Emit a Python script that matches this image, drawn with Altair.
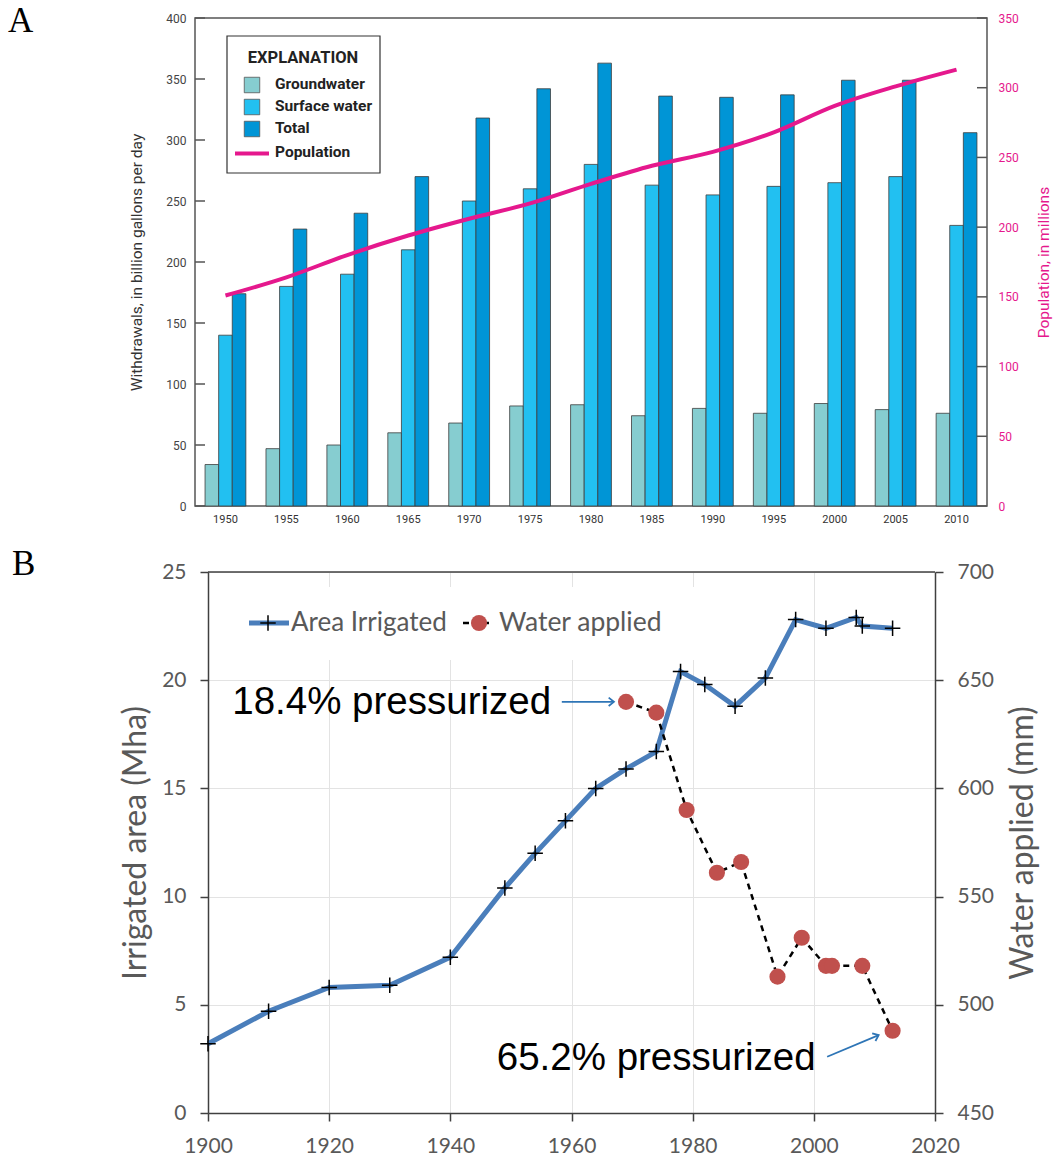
import math
import altair as alt
import pandas as pd

# ---------------- Panel A data ----------------
years_a = [1950, 1955, 1960, 1965, 1970, 1975, 1980, 1985, 1990, 1995, 2000, 2005, 2010]
groundwater = [34, 47, 50, 60, 68, 82, 83, 74, 80, 76, 84, 79, 76]
surface_water = [140, 180, 190, 210, 250, 260, 280, 263, 255, 262, 265, 270, 230]
total = [174, 227, 240, 270, 318, 342, 363, 336, 335, 337, 349, 349, 306]
population = [151, 164, 180, 194, 206, 217, 231, 244, 254, 268, 287, 301, 313]
series_names = ["Groundwater", "Surface water", "Total"]
series_colors = ["#86cdd0", "#22c0f1", "#0095d6"]
withdrawal_ticks = [0, 50, 100, 150, 200, 250, 300, 350, 400]
population_ticks = [0, 50, 100, 150, 200, 250, 300, 350]

# ---------------- Panel B data ----------------
area_years = [1900, 1910, 1920, 1930, 1940, 1949, 1954, 1959, 1964, 1969, 1974,
              1978, 1982, 1987, 1992, 1997, 2002, 2007, 2008, 2013]
area_mha = [3.2, 4.7, 5.8, 5.9, 7.2, 10.4, 12.0, 13.5, 15.0, 15.9, 16.7,
            20.4, 19.8, 18.8, 20.1, 22.8, 22.4, 22.9, 22.5, 22.4]
water_years = [1969, 1974, 1979, 1984, 1988, 1994, 1998, 2002, 2003, 2008, 2013]
water_mm = [640, 635, 590, 561, 566, 513, 531, 518, 518, 518, 488]
year_ticks = [1900, 1920, 1940, 1960, 1980, 2000, 2020]
area_ticks = [0, 5, 10, 15, 20, 25]
mm_ticks = [450, 500, 550, 600, 650, 700]
ann_labels = ["18.4% pressurized", "65.2% pressurized"]
ann_years = [1904.0, 2000.3]
ann_mm = [640, 475.5]
arrow_from_year = [1958.4, 2002.2]
arrow_from_mm = [640, 476]
arrow_to_year = [1967.0, 2010.7]
arrow_to_mm = [640, 486]

COND = "Roboto, Liberation Sans, Arial, sans-serif"
PINK = "#e5188d"
SERIF = "Liberation Serif, Times New Roman, serif"
CAL = "Lato, Carlito, Calibri, sans-serif"
GRAY = "#595959"

# ================= Panel A =================
rows = []
for i, y in enumerate(years_a):
    for s, vals in zip(series_names, [groundwater, surface_water, total]):
        rows.append({"year": y, "series": s, "value": vals[i]})
bars_df = pd.DataFrame(rows)
pop_df = pd.DataFrame({"year": years_a, "pop": population})
lt_df = pd.DataFrame({"value": withdrawal_ticks})
rt_df = pd.DataFrame({"pop": population_ticks})

W_A, H_A = 792, 488

xA = alt.X("year:O", scale=alt.Scale(paddingInner=0.33, paddingOuter=0.165),
           axis=alt.Axis(title=None, labelAngle=0, ticks=False, domain=False,
                         labelFont=COND, labelFontSize=11, labelColor="#333",
                         labelPadding=7))
yA = alt.Y("value:Q", scale=alt.Scale(domain=[0, 400], nice=False, zero=True),
           axis=alt.Axis(values=withdrawal_ticks, title="Withdrawals, in billion gallons per day",
                         titleFont=COND, titleFontSize=15.5, titleFontWeight="normal",
                         titleColor="#333", labelFont=COND, labelFontSize=12,
                         labelColor="#444", ticks=False, domain=False, grid=False,
                         labelPadding=9, titlePadding=21))
yP = alt.Y("pop:Q", scale=alt.Scale(domain=[0, 350], nice=False, zero=True),
           axis=alt.Axis(orient="right", values=population_ticks, title="Population, in millions",
                         titleFont=COND, titleFontSize=15.5, titleFontWeight="normal",
                         titleColor=PINK, labelFont=COND, labelFontSize=12,
                         labelColor=PINK, ticks=False, domain=False, grid=False,
                         labelPadding=11, titlePadding=18, titleAngle=270,
                         titleBaseline="top"))
color_scale = alt.Scale(domain=series_names, range=series_colors)

bars = alt.Chart(bars_df).mark_bar(stroke="#3c3c3c", strokeWidth=0.8).encode(
    x=xA,
    xOffset=alt.XOffset("series:N", sort=series_names,
                        scale=alt.Scale(paddingInner=0, paddingOuter=0)),
    y=yA,
    color=alt.Color("series:N", scale=color_scale, legend=None),
)
lticks = alt.Chart(lt_df).mark_rule(color="#555", strokeWidth=1.5).encode(
    y=yA, x=alt.value(0), x2=alt.value(10))
rticks = alt.Chart(rt_df).mark_rule(color="#555", strokeWidth=1.5).encode(
    y=yP, x=alt.value(W_A - 10), x2=alt.value(W_A))
popline = alt.Chart(pop_df).mark_line(color=PINK, strokeWidth=4, interpolate="monotone").encode(
    x=xA, y=yP)


def one(label):
    return alt.Chart(pd.DataFrame({"t": [label]}))


legend_box = one("box").mark_rect(fill="white", stroke="#333", strokeWidth=1.2).encode(
    x=alt.value(32), x2=alt.value(185), y=alt.value(18), y2=alt.value(155))
legend_title = one("EXPLANATION").mark_text(
    font=COND, fontSize=16.5, fontWeight="bold", color="#222", align="center",
    baseline="middle").encode(x=alt.value(108), y=alt.value(40), text="t:N")
legend_layers = [legend_box, legend_title]
row_y = [67, 89, 111]
for name, yy in zip(series_names, row_y):
    legend_layers.append(
        alt.Chart(pd.DataFrame({"series": [name]})).mark_square(
            size=240, opacity=1, stroke="#555", strokeWidth=0.8).encode(
            x=alt.value(57), y=alt.value(yy),
            color=alt.Color("series:N", scale=color_scale, legend=None)))
    legend_layers.append(
        one(name).mark_text(font=COND, fontSize=15.5, fontWeight="bold", color="#222",
                            align="left", baseline="middle").encode(
            x=alt.value(80), y=alt.value(yy - 1), text="t:N"))
legend_layers.append(one("Population").mark_rule(color=PINK, strokeWidth=4).encode(
    x=alt.value(40), x2=alt.value(74), y=alt.value(135.5)))
legend_layers.append(one("Population").mark_text(
    font=COND, fontSize=15.5, fontWeight="bold", color="#222", align="left",
    baseline="middle").encode(x=alt.value(80), y=alt.value(133.5), text="t:N"))

label_a = one("A").mark_text(font=SERIF, fontSize=35, align="left",
                             baseline="alphabetic", color="black").encode(
    x=alt.value(-187), y=alt.value(13.7), text="t:N")

top = alt.layer(
    alt.layer(bars, lticks, *legend_layers, label_a),
    alt.layer(popline, rticks),
).resolve_scale(y="independent").properties(
    width=W_A, height=H_A, view=alt.ViewBackground(stroke="#555", strokeWidth=1.5))

# ================= Panel B =================
W_B, H_B = 740, 541
X0 = 13
area_df = pd.DataFrame({"year": area_years, "mha": area_mha})
water_df = pd.DataFrame({"year": water_years, "mm": water_mm})
ann_df = pd.DataFrame({"year": ann_years, "mm": ann_mm, "label": ann_labels})
arrow_df = pd.DataFrame({"year": arrow_from_year, "mm": arrow_from_mm,
                         "year2": arrow_to_year, "mm2": arrow_to_mm})

xB = alt.X("year:Q", scale=alt.Scale(domain=[1900, 2020], range=[X0, W_B], nice=False, zero=False),
           axis=alt.Axis(values=year_ticks, format="d", title=None, grid=True,
                         gridColor="#e3e3e3", domainColor="#404040", domainWidth=1.5,
                         tickColor="#404040", tickWidth=1.5, tickSize=8,
                         labelFont=CAL, labelFontSize=21, labelColor=GRAY,
                         labelPadding=14, labelFlush=False, labelOverlap=False))
yL = alt.Y("mha:Q", scale=alt.Scale(domain=[0, 25], nice=False, zero=True),
           axis=alt.Axis(values=area_ticks, title="Irrigated area (Mha)", offset=-X0,
                         grid=True, gridColor="#e3e3e3", domainColor="#404040",
                         domainWidth=1.5, tickColor="#404040", tickWidth=1.5, tickSize=8,
                         labelFont=CAL, labelFontSize=21, labelColor=GRAY, labelPadding=14,
                         labelFlush=False, titleFont=CAL, titleFontSize=32,
                         titleFontWeight="normal", titleColor=GRAY, titlePadding=9))
yR = alt.Y("mm:Q", scale=alt.Scale(domain=[450, 700], nice=False, zero=False),
           axis=alt.Axis(orient="right", values=mm_ticks, title="Water applied (mm)",
                         grid=False, domainColor="#404040", domainWidth=1.5,
                         tickColor="#404040", tickWidth=1.5, tickSize=8,
                         labelFont=CAL, labelFontSize=21, labelColor=GRAY, labelPadding=14,
                         labelFlush=False, titleFont=CAL, titleFontSize=32,
                         titleFontWeight="normal", titleColor=GRAY, titlePadding=14,
                         titleAngle=270, titleBaseline="top"))

PLUS = "M-1,0H1M0,-1V1"
area_line = alt.Chart(area_df).mark_line(color="#4a7ebb", strokeWidth=5).encode(x=xB, y=yL)
area_pts = alt.Chart(area_df).mark_point(shape=PLUS, size=240, filled=False, color="black",
                                         strokeWidth=1.5, opacity=1).encode(x=xB, y=yL)
top_border = one("border").mark_rule(color="#404040", strokeWidth=1.5).encode(
    x=alt.value(X0), x2=alt.value(W_B), y=alt.value(0))

leg_bg = one("bg").mark_rect(fill="white").encode(
    x=alt.value(28), x2=alt.value(505), y=alt.value(15), y2=alt.value(88))
leg_y = 51
leg_b = [
    leg_bg,
    one("Area Irrigated").mark_rule(color="#4a7ebb", strokeWidth=5).encode(
        x=alt.value(54), x2=alt.value(94), y=alt.value(leg_y)),
    one("Area Irrigated").mark_point(shape=PLUS, size=240, filled=False, color="black",
                                     strokeWidth=1.5, opacity=1).encode(
        x=alt.value(73), y=alt.value(leg_y)),
    one("Area Irrigated").mark_text(font=CAL, fontSize=26, color=GRAY, align="left",
                                    baseline="middle").encode(
        x=alt.value(96), y=alt.value(leg_y), text="t:N"),
    one("Water applied").mark_rule(color="black", strokeWidth=2.5, strokeDash=[6, 4]).encode(
        x=alt.value(268), x2=alt.value(294), y=alt.value(leg_y)),
    one("Water applied").mark_circle(size=260, color="#c0504d", opacity=1).encode(
        x=alt.value(284), y=alt.value(leg_y)),
    one("Water applied").mark_text(font=CAL, fontSize=26.5, color=GRAY, align="left",
                                   baseline="middle").encode(
        x=alt.value(304), y=alt.value(leg_y), text="t:N"),
]
label_b = one("B").mark_text(font=SERIF, fontSize=35, align="left",
                             baseline="alphabetic", color="black").encode(
    x=alt.value(-183), y=alt.value(3), text="t:N")

water_line = alt.Chart(water_df).mark_line(color="black", strokeWidth=2.5,
                                           strokeDash=[6, 5]).encode(x=xB, y=yR)
water_pts = alt.Chart(water_df).mark_circle(size=260, color="#c0504d", opacity=1).encode(
    x=xB, y=yR)
ann_left = alt.Chart(ann_df.iloc[[0]]).mark_text(
    font="Liberation Sans, Arial, sans-serif", fontSize=38.5, color="black",
    align="left", baseline="middle").encode(x=xB, y=yR, text="label:N")
ann_right = alt.Chart(ann_df.iloc[[1]]).mark_text(
    font="Liberation Sans, Arial, sans-serif", fontSize=38.5, color="black",
    align="right", baseline="middle").encode(x=xB, y=yR, text="label:N")
ARROW_BLUE = "#2e75b6"
arrow_shafts = alt.Chart(arrow_df).mark_rule(color=ARROW_BLUE, strokeWidth=1.8).encode(
    x=xB, y=yR, x2="year2:Q", y2="mm2:Q")
heads = []
px_year = (W_B - X0) / 120.0
px_mm = H_B / 250.0
for i in range(len(arrow_to_year)):
    dx = (arrow_to_year[i] - arrow_from_year[i]) * px_year
    dy = -(arrow_to_mm[i] - arrow_from_mm[i]) * px_mm
    ang = math.degrees(math.atan2(dy, dx)) % 360
    hdf = pd.DataFrame({"year": [arrow_to_year[i]], "mm": [arrow_to_mm[i]]})
    heads.append(alt.Chart(hdf).mark_point(
        shape="M-1,-0.8L0,0L-1,0.8", size=110, filled=False, color=ARROW_BLUE,
        strokeWidth=1.8, opacity=1, angle=ang).encode(x=xB, y=yR))

bottom = alt.layer(
    alt.layer(area_line, area_pts, top_border, *leg_b, label_b),
    alt.layer(water_line, water_pts, ann_left, ann_right, arrow_shafts, *heads),
).resolve_scale(y="independent").properties(width=W_B, height=H_B)

chart = alt.vconcat(top, bottom, spacing=21).properties(
    padding={"left": 7, "top": 2, "right": 0, "bottom": 0},
    background="white",
).configure_view(stroke="transparent")

chart.save("out.html", embed_options={"renderer": "svg", "actions": False})
